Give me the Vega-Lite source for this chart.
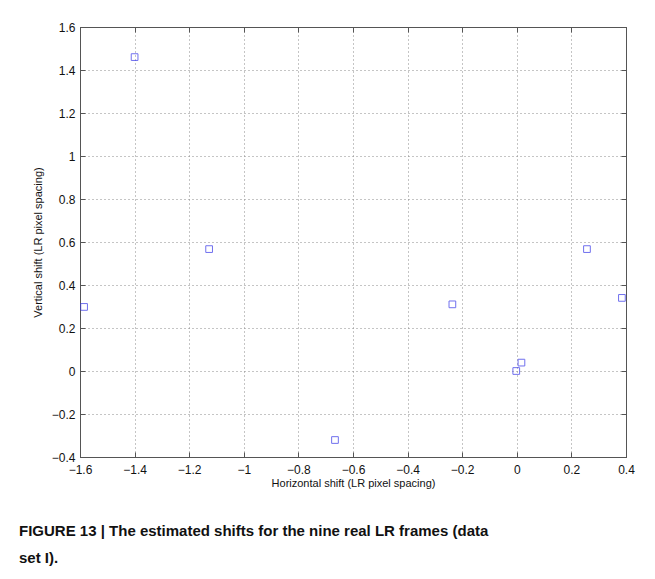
{
  "$schema": "https://vega.github.io/schema/vega-lite/v6.json",
  "width": 546,
  "height": 430,
  "autosize": {"type": "none"},
  "padding": {"left": 80, "top": 27, "right": 29, "bottom": 122},
  "background": "white",
  "data": {"values": [
    {"h": -1.4, "v": 1.46},
    {"h": -1.585, "v": 0.298},
    {"h": -1.127, "v": 0.567},
    {"h": -0.666, "v": -0.321},
    {"h": -0.236, "v": 0.31},
    {"h": -0.002, "v": 0.0},
    {"h": 0.017, "v": 0.039},
    {"h": 0.257, "v": 0.567},
    {"h": 0.385, "v": 0.34}
  ]},
  "title": {
    "text": ["FIGURE 13 | The estimated shifts for the nine real LR frames (data", "set I)."],
    "orient": "bottom",
    "anchor": "start",
    "frame": "group",
    "dx": -61,
    "offset": 36,
    "font": "Liberation Sans",
    "fontSize": 15,
    "fontWeight": "bold",
    "lineHeight": 27,
    "color": "#111111",
    "baseline": "top"
  },
  "config": {
    "view": {"stroke": "#555555", "strokeWidth": 1},
    "axis": {
      "labelFont": "Liberation Sans",
      "labelFontSize": 12,
      "labelColor": "#111111",
      "labelFlush": false,
      "labelOverlap": false,
      "titleFont": "Liberation Sans",
      "titleFontSize": 11,
      "titleFontWeight": "normal",
      "titleColor": "#111111",
      "domainColor": "#555555",
      "tickColor": "#555555",
      "tickSize": -5,
      "gridColor": "#8a8a8a",
      "gridDash": [1, 3],
      "gridOpacity": 1
    }
  },
  "layer": [
    {
      "mark": {"type": "point", "shape": "square", "filled": false, "color": "#3535e8", "size": 45, "strokeWidth": 1},
      "encoding": {
        "x": {
          "field": "h", "type": "quantitative",
          "scale": {"domain": [-1.6, 0.4], "nice": false, "zero": false},
          "axis": {"orient": "bottom", "values": [-1.6, -1.4, -1.2, -1, -0.8, -0.6, -0.4, -0.2, 0, 0.2, 0.4], "format": "~g", "grid": true, "labelPadding": 12, "title": "Horizontal shift (LR pixel spacing)", "titlePadding": 2}
        },
        "y": {
          "field": "v", "type": "quantitative",
          "scale": {"domain": [-0.4, 1.6], "nice": false, "zero": false},
          "axis": {"orient": "left", "values": [-0.4, -0.2, 0, 0.2, 0.4, 0.6, 0.8, 1, 1.2, 1.4, 1.6], "format": "~g", "grid": true, "labelPadding": 10, "title": "Vertical shift (LR pixel spacing)", "titlePadding": 8}
        }
      }
    },
    {
      "mark": {"type": "point", "opacity": 0},
      "encoding": {
        "x": {
          "field": "h", "type": "quantitative",
          "scale": {"domain": [-1.6, 0.4], "nice": false, "zero": false},
          "axis": {"orient": "top", "values": [-1.6, -1.4, -1.2, -1, -0.8, -0.6, -0.4, -0.2, 0, 0.2, 0.4], "labels": false, "grid": false, "title": null}
        },
        "y": {
          "field": "v", "type": "quantitative",
          "scale": {"domain": [-0.4, 1.6], "nice": false, "zero": false},
          "axis": {"orient": "right", "values": [-0.4, -0.2, 0, 0.2, 0.4, 0.6, 0.8, 1, 1.2, 1.4, 1.6], "labels": false, "grid": false, "title": null}
        }
      }
    }
  ],
  "resolve": {"axis": {"x": "independent", "y": "independent"}}
}
